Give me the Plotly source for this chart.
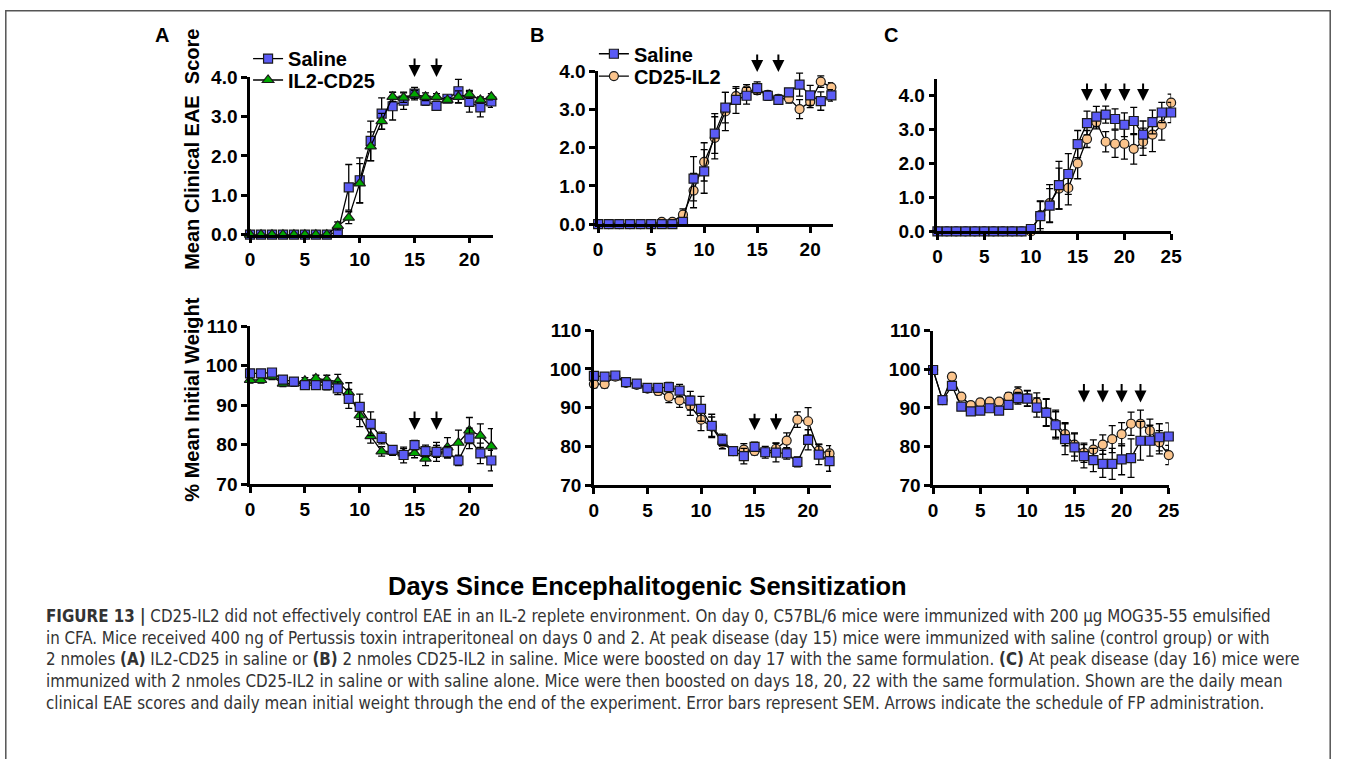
import plotly.graph_objects as go

# ---------------- data ----------------
days22 = list(range(23))
days25 = list(range(26))
doses_ab = [15, 17]
doses_c = [16, 18, 20, 22]

# Panel A - clinical score
a_score_saline = [0, 0, 0, 0, 0, 0, 0, 0, 0.06, 1.2, 1.38, 2.38, 3.07, 3.26, 3.4, 3.58, 3.4, 3.27, 3.45, 3.64, 3.37, 3.23, 3.38]
a_score_saline_sem = [0, 0, 0, 0, 0, 0, 0, 0, 0.04, 0.58, 0.57, 0.5, 0.4, 0.35, 0.22, 0.16, 0.12, 0.1, 0.06, 0.3, 0.26, 0.24, 0.15]
a_score_il2cd25 = [0, 0, 0, 0, 0, 0, 0, 0, 0.22, 0.43, 1.3, 2.24, 2.88, 3.5, 3.48, 3.56, 3.5, 3.5, 3.42, 3.5, 3.56, 3.42, 3.5]
a_score_il2cd25_sem = [0, 0, 0, 0, 0, 0, 0, 0, 0.1, 0.15, 0.5, 0.37, 0.2, 0.12, 0.12, 0.1, 0.1, 0.08, 0.06, 0.15, 0.1, 0.08, 0.08]

# Panel A - weight
a_wt_saline = [98.1, 98.1, 98.3, 96.5, 96.0, 95.1, 95.1, 95.1, 94.3, 91.6, 89.6, 85.3, 81.7, 78.7, 77.4, 79.9, 78.4, 78.2, 78.1, 76.0, 81.6, 77.8, 76.0]
a_wt_saline_sem = [0.8, 0.8, 0.8, 0.8, 0.8, 0.8, 0.8, 1.2, 1.6, 2.4, 3.2, 3.0, 1.5, 1.0, 2.0, 1.2, 1.5, 2.4, 1.5, 1.3, 2.6, 2.6, 2.6]
a_wt_il2cd25 = [96.4, 96.4, 97.3, 95.5, 95.6, 96.2, 96.8, 96.4, 96.0, 93.2, 87.4, 82.2, 78.3, 78.3, 77.8, 77.9, 76.5, 78.3, 79.3, 80.5, 83.6, 82.3, 79.6]
a_wt_il2cd25_sem = [0.8, 0.8, 0.8, 0.8, 0.8, 0.8, 0.8, 1.2, 1.8, 2.5, 2.8, 1.8, 1.2, 1.0, 1.2, 1.2, 1.8, 1.5, 2.5, 3.2, 3.3, 3.0, 4.5]

# Panel B - clinical score
b_score_saline = [0, 0, 0, 0, 0, 0, 0, 0, 0.06, 1.19, 1.38, 2.37, 3.05, 3.25, 3.36, 3.56, 3.36, 3.25, 3.45, 3.65, 3.37, 3.22, 3.37]
b_score_saline_sem = [0, 0, 0, 0, 0, 0, 0, 0, 0.04, 0.58, 0.57, 0.52, 0.4, 0.35, 0.22, 0.16, 0.12, 0.1, 0.06, 0.3, 0.26, 0.24, 0.15]
b_score_cd25il2 = [0, 0, 0, 0, 0, 0, 0.06, 0.06, 0.25, 0.88, 1.63, 2.26, 2.95, 3.35, 3.5, 3.5, 3.38, 3.28, 3.29, 3.01, 3.2, 3.73, 3.58]
b_score_cd25il2_sem = [0, 0, 0, 0, 0, 0, 0.05, 0.05, 0.15, 0.45, 0.5, 0.55, 0.5, 0.2, 0.15, 0.1, 0.1, 0.1, 0.12, 0.25, 0.15, 0.15, 0.12]

# Panel B - weight
b_wt_saline = [98.2, 98.0, 98.3, 96.6, 96.2, 95.1, 95.1, 95.3, 94.4, 91.8, 89.7, 85.3, 81.7, 78.8, 77.5, 79.9, 78.5, 78.4, 78.2, 76.0, 81.7, 77.9, 76.2]
b_wt_saline_sem = [0.8, 0.8, 0.8, 0.8, 0.8, 0.8, 0.8, 1.2, 1.6, 2.4, 3.2, 3.0, 1.5, 1.0, 2.0, 1.2, 1.5, 2.4, 1.5, 1.3, 2.6, 2.6, 2.6]
b_wt_cd25il2 = [96.1, 96.1, 98.0, 96.4, 95.9, 94.9, 94.3, 92.8, 91.9, 90.5, 86.9, 85.1, 80.9, 78.8, 79.2, 78.8, 78.5, 79.4, 81.5, 86.9, 86.5, 78.9, 78.2]
b_wt_cd25il2_sem = [1.0, 1.0, 0.8, 0.8, 0.8, 0.8, 1.0, 1.5, 1.8, 2.5, 2.8, 2.5, 1.5, 1.0, 1.5, 1.0, 1.0, 1.5, 2.0, 2.0, 3.5, 1.7, 2.0]

# Panel C - clinical score
c_score_saline = [0, 0, 0, 0, 0, 0, 0, 0, 0, 0, 0.07, 0.45, 0.76, 1.36, 1.69, 2.57, 3.19, 3.38, 3.44, 3.31, 3.14, 3.25, 2.85, 3.22, 3.5, 3.5]
c_score_saline_sem = [0, 0, 0, 0, 0, 0, 0, 0, 0, 0, 0.05, 0.45, 0.5, 0.7, 0.6, 0.4, 0.35, 0.3, 0.25, 0.3, 0.35, 0.4, 0.4, 0.35, 0.3, 0.3]
c_score_cd25il2 = [0, 0, 0, 0, 0, 0, 0, 0, 0, 0, 0.0, 0.48, 0.83, 1.26, 1.28, 2.0, 2.72, 3.22, 2.64, 2.58, 2.58, 2.43, 2.64, 2.85, 3.14, 3.79]
c_score_cd25il2_sem = [0, 0, 0, 0, 0, 0, 0, 0, 0, 0, 0.0, 0.4, 0.55, 0.6, 0.5, 0.45, 0.25, 0.2, 0.3, 0.4, 0.45, 0.45, 0.4, 0.5, 0.45, 0.25]

# Panel C - weight
c_wt_saline = [99.8, 92.0, 95.7, 90.3, 89.1, 89.3, 89.9, 89.3, 90.8, 92.5, 92.4, 90.1, 88.7, 85.5, 81.9, 79.8, 77.5, 76.5, 75.5, 75.5, 76.7, 77.0, 81.5, 81.5, 82.4, 82.6]
c_wt_saline_sem = [0.3, 0.5, 0.8, 0.8, 0.8, 0.8, 0.8, 0.8, 1.0, 1.5, 2.0, 2.5, 3.5, 3.5, 4.0, 3.5, 3.0, 3.0, 3.5, 4.0, 4.0, 5.0, 5.0, 4.0, 3.5, 3.5]
c_wt_cd25il2 = [99.8, 92.0, 98.1, 92.9, 90.7, 91.4, 91.6, 91.6, 92.9, 93.9, 92.5, 91.4, 88.9, 85.9, 83.2, 80.5, 78.4, 79.2, 80.5, 81.9, 83.2, 85.9, 85.9, 84.1, 81.1, 77.8]
c_wt_cd25il2_sem = [0.3, 0.5, 0.8, 0.8, 0.8, 0.8, 0.8, 0.8, 1.0, 1.5, 2.0, 2.5, 3.5, 3.5, 3.0, 3.0, 2.5, 2.5, 2.5, 3.5, 3.0, 3.0, 3.5, 3.0, 3.0, 2.5]

score_ticks = [0, 1, 2, 3, 4]
weight_ticks = [70, 80, 90, 100, 110]
day_ticks_22 = [0, 5, 10, 15, 20]
day_ticks_25 = [0, 5, 10, 15, 20, 25]

caption_lines = [
    "<b>FIGURE 13 |</b> CD25-IL2 did not effectively control EAE in an IL-2 replete environment. On day 0, C57BL/6 mice were immunized with 200 \u03bcg MOG35-55 emulsified",
    "in CFA. Mice received 400 ng of Pertussis toxin intraperitoneal on days 0 and 2. At peak disease (day 15) mice were immunized with saline (control group) or with",
    "2 nmoles <b>(A)</b> IL2-CD25 in saline or <b>(B)</b> 2 nmoles CD25-IL2 in saline. Mice were boosted on day 17 with the same formulation. <b>(C)</b> At peak disease (day 16) mice were",
    "immunized with 2 nmoles CD25-IL2 in saline or with saline alone. Mice were then boosted on days 18, 20, 22 with the same formulation. Shown are the daily mean",
    "clinical EAE scores and daily mean initial weight through the end of the experiment. Error bars represent SEM. Arrows indicate the schedule of FP administration.",
]

# ---------------- styling ----------------
# the page body keeps an 8px margin, so the figure is drawn 8px in from the window edge
OFF = 8
W, H = 1358 - 2 * OFF, 775 - 2 * OFF
FONT = "Liberation Sans, Arial, Helvetica, sans-serif"
CAP_FONT = "DejaVu Sans Condensed, sans-serif"
BLUE = "#5B5BF5"
GREEN = "#00A800"
ORANGE = "#FBC48C"
TF = dict(family=FONT, size=19, color="black", weight="bold")
LF = dict(family=FONT, size=20, color="black", weight="bold")


def px(x):
    return (x - OFF) / W


def py(y):
    return 1 - (y - OFF) / H


def xaxis(p0, ppd, xmax, ticks, anchor):
    return dict(domain=[px(p0), px(p0 + ppd * xmax)], range=[0, xmax], anchor=anchor,
                tickvals=ticks, showline=True, linecolor="black", linewidth=2.5,
                ticks="outside", ticklen=6, tickwidth=2.5, tickcolor="black",
                showgrid=False, zeroline=False, tickfont=TF, fixedrange=True)


def yaxis(pbot, ptop, yr, ticks, anchor, fmt=None):
    d = dict(domain=[py(pbot), py(ptop)], range=yr, anchor=anchor,
             tickvals=ticks, showline=True, linecolor="black", linewidth=2.5,
             ticks="outside", ticklen=6, tickwidth=2.5, tickcolor="black",
             showgrid=False, zeroline=False, tickfont=TF, fixedrange=True)
    if fmt:
        d["tickformat"] = fmt
    return d


def series(x, y, sem, name, symbol, color, xa, ya, legend=None, size=9):
    return go.Scatter(
        x=x, y=y, name=name, mode="lines+markers",
        error_y=dict(type="data", array=sem, color="black", thickness=1.3, width=3.5),
        line=dict(color="black", width=1.3),
        marker=dict(symbol=symbol, size=size, color=color, line=dict(color="#1a1a1a", width=1.2)),
        cliponaxis=False, xaxis=xa, yaxis=ya,
        showlegend=legend is not None, legend=legend if legend else "legend",
    )


fig = go.Figure()
# A top
fig.add_trace(series(days22, a_score_saline, a_score_saline_sem, "Saline", "square", BLUE, "x", "y", "legend"))
fig.add_trace(series(days22, a_score_il2cd25, a_score_il2cd25_sem, "IL2-CD25", "triangle-up", GREEN, "x", "y", "legend2", 10))
# A bottom
fig.add_trace(series(days22, a_wt_il2cd25, a_wt_il2cd25_sem, "IL2-CD25", "triangle-up", GREEN, "x2", "y2", None, 10))
fig.add_trace(series(days22, a_wt_saline, a_wt_saline_sem, "Saline", "square", BLUE, "x2", "y2"))
# B top
fig.add_trace(series(days22, b_score_cd25il2, b_score_cd25il2_sem, "CD25-IL2", "circle", ORANGE, "x3", "y3", "legend4"))
fig.add_trace(series(days22, b_score_saline, b_score_saline_sem, "Saline", "square", BLUE, "x3", "y3", "legend3"))
# B bottom
fig.add_trace(series(days22, b_wt_cd25il2, b_wt_cd25il2_sem, "CD25-IL2", "circle", ORANGE, "x4", "y4"))
fig.add_trace(series(days22, b_wt_saline, b_wt_saline_sem, "Saline", "square", BLUE, "x4", "y4"))
# C top
fig.add_trace(series(days25, c_score_cd25il2, c_score_cd25il2_sem, "CD25-IL2", "circle", ORANGE, "x5", "y5"))
fig.add_trace(series(days25, c_score_saline, c_score_saline_sem, "Saline", "square", BLUE, "x5", "y5"))
# C bottom
fig.add_trace(series(days25, c_wt_cd25il2, c_wt_cd25il2_sem, "CD25-IL2", "circle", ORANGE, "x6", "y6"))
fig.add_trace(series(days25, c_wt_saline, c_wt_saline_sem, "Saline", "square", BLUE, "x6", "y6"))


def leg(x, y):
    return dict(x=px(x), y=py(y), xanchor="left", yanchor="middle", bgcolor="rgba(0,0,0,0)",
                font=LF, itemwidth=30, tracegroupgap=0, borderwidth=0)


XMAX_AB = 22.15
layout = dict(
    width=W, height=H, margin=dict(l=0, r=0, t=0, b=0),
    paper_bgcolor="white", plot_bgcolor="rgba(0,0,0,0)",
    font=dict(family=FONT, color="black"),
    xaxis=xaxis(256, 11.1, XMAX_AB, day_ticks_22, "y"),
    yaxis=yaxis(239, 77, [0, 4], score_ticks, "x", ".1f"),
    xaxis2=xaxis(256, 11.1, XMAX_AB, day_ticks_22, "y2"),
    yaxis2=yaxis(495.7, 333.3, [70, 110], weight_ticks, "x2"),
    xaxis3=xaxis(608.3, 10.73, XMAX_AB, day_ticks_22, "y3"),
    yaxis3=yaxis(228.3, 71, [0, 4], score_ticks, "x3", ".1f"),
    xaxis4=xaxis(604, 10.84, XMAX_AB, day_ticks_22, "y4"),
    yaxis4=yaxis(496.7, 337.3, [70, 110], weight_ticks, "x4"),
    xaxis5=xaxis(951.7, 9.46, 25, day_ticks_25, "y5"),
    yaxis5=yaxis(235.7, 235.7 - 4.5 * 34.93, [0, 4.5], score_ticks, "x5", ".1f"),
    xaxis6=xaxis(947.3, 9.54, 25, day_ticks_25, "y6"),
    yaxis6=yaxis(496.7, 337.7, [70, 110], weight_ticks, "x6"),
    legend=leg(254, 58),
    legend2=leg(254, 80),
    legend3=leg(604, 53),
    legend4=leg(604, 76),
    showlegend=True,
)
fig.update_layout(**layout)

ann = []
# arrows: (axis suffix, days, tip value, length px)
arrow_specs = [("", doses_ab, 4.0, 20), ("2", doses_ab, 83.7, 20), ("3", doses_ab, 3.98, 19),
               ("4", doses_ab, 84.2, 18), ("5", doses_c, 3.84, 19), ("6", doses_c, 91.4, 20)]
for sfx, dd, tip, ln in arrow_specs:
    for d in dd:
        ann.append(dict(x=d, y=tip, xref="x" + sfx, yref="y" + sfx, ax=0, ay=-ln, showarrow=True,
                        arrowhead=2, arrowsize=1.2, arrowwidth=2, arrowcolor="black", standoff=0, text=""))

# panel letters
for t, x, y in [("A", 167, 34), ("B", 546, 34), ("C", 905, 34)]:
    ann.append(dict(text=t, x=px(x), y=py(y), xref="paper", yref="paper", showarrow=False,
                    font=dict(family=FONT, size=20, weight="bold"), xanchor="center", yanchor="middle"))

# axis titles
ann.append(dict(text="Mean Clinical EAE \u00a0Score", x=px(197), y=py(151), xref="paper", yref="paper",
                showarrow=False, textangle=-90, font=LF, xanchor="center", yanchor="middle"))
ann.append(dict(text="% Mean Initial Weight", x=px(197), y=py(409), xref="paper", yref="paper",
                showarrow=False, textangle=-90, font=LF, xanchor="center", yanchor="middle"))
ann.append(dict(text="Days Since Encephalitogenic Sensitization", x=px(658), y=py(600), xref="paper",
                yref="paper", showarrow=False, font=dict(family=FONT, size=25.5, color="black", weight="bold"),
                xanchor="center", yanchor="middle"))

# caption
for i, line in enumerate(caption_lines):
    ann.append(dict(text=line, x=px(47), y=py(631 + 22.4 * i), xref="paper", yref="paper",
                    showarrow=False, font=dict(family=CAP_FONT, size=16.8, color="#333333"),
                    xanchor="left", yanchor="middle", align="left"))

fig.update_layout(annotations=ann)

fig.update_layout(shapes=[
    dict(type="rect", xref="paper", yref="paper", x0=0.0006, x1=0.9994, y0=-0.2, y1=0.999,
         line=dict(color="#555555", width=1.5), fillcolor="rgba(0,0,0,0)", layer="below"),
])

fig.write_html("out.html")
